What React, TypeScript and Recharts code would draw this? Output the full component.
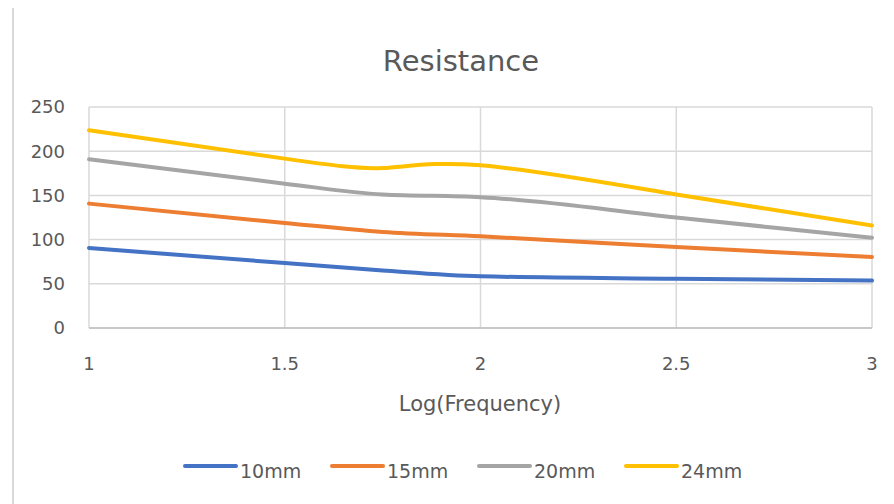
import { CartesianGrid, Line, LineChart, XAxis, YAxis } from "recharts";

const logFreq = [1, 1.5, 1.75, 2, 2.5, 3];
const r10 = [90.5, 73.5, 65, 58.5, 55.8, 53.6];
const r15 = [140.7, 118.8, 108.6, 103.7, 91.6, 80.3];
const r20 = [190.8, 163.3, 151, 148, 125, 102];
const r24 = [223.6, 191.6, 181, 184, 151, 116];

const xTicks = [1, 1.5, 2, 2.5, 3];
const yTicks = [0, 50, 100, 150, 200, 250];

const series = [
  { key: "s10", name: "10mm", color: "#4472C4", values: r10 },
  { key: "s15", name: "15mm", color: "#ED7D31", values: r15 },
  { key: "s20", name: "20mm", color: "#A5A5A5", values: r20 },
  { key: "s24", name: "24mm", color: "#FFC000", values: r24 },
];

const data = logFreq.map((x, i) => {
  const row: Record<string, number> = { x };
  series.forEach((s) => (row[s.key] = s.values[i]));
  return row;
});

const FONT = "'DejaVu Sans', sans-serif";
const TEXT = "#595959";

export default function App() {
  return (
    <div style={{ position: "relative", width: 886, height: 496, background: "#fff", fontFamily: FONT, color: TEXT }}>
      <div style={{ position: "absolute", left: 4, top: 0, width: 2, height: 496, background: "#d9d9d9" }} />
      <div style={{ position: "absolute", left: 0, top: 36, width: 906, textAlign: "center", fontSize: 29 }}>
        Resistance
      </div>
      <div style={{ position: "absolute", left: 0, top: 384, width: 944, textAlign: "center", fontSize: 21 }}>
        Log(Frequency)
      </div>
      <div style={{ position: "absolute", left: 172, top: 449, display: "flex", fontSize: 19 }}>
        {series.map((s) => (
          <div key={s.key} style={{ display: "flex", alignItems: "center", width: 147, height: 24 }}>
            <svg width={60} height={12} style={{ marginTop: -6 }}>
              <line x1={5} y1={6} x2={56} y2={6} stroke={s.color} strokeWidth={4} strokeLinecap="round" />
            </svg>
            <span style={{ marginTop: 4 }}>{s.name}</span>
          </div>
        ))}
      </div>
      <LineChart width={886} height={496} data={data} margin={{ top: 99, right: 22, bottom: 146, left: 0 }}>
        <CartesianGrid stroke="#d9d9d9" strokeWidth={1.5} />
        <XAxis
          dataKey="x"
          type="number"
          domain={[1, 3]}
          ticks={xTicks}
          tickLine={false}
          tickMargin={23}
          axisLine={{ stroke: "#bfbfbf", strokeWidth: 1.5 }}
          tick={{ fill: TEXT, fontSize: 18, fontFamily: FONT }}
          height={30}
        />
        <YAxis
          type="number"
          domain={[0, 250]}
          ticks={yTicks}
          width={81}
          tickLine={false}
          axisLine={false}
          tickMargin={18}
          tick={{ fill: TEXT, fontSize: 18, fontFamily: FONT }}
        />
        {series.map((s) => (
          <Line
            key={s.key}
            dataKey={s.key}
            name={s.name}
            type={s.key === "s24" ? "natural" : "monotone"}
            stroke={s.color}
            strokeWidth={4}
            strokeLinecap="round"
            dot={false}
            activeDot={false}
            isAnimationActive={false}
          />
        ))}
      </LineChart>
    </div>
  );
}
